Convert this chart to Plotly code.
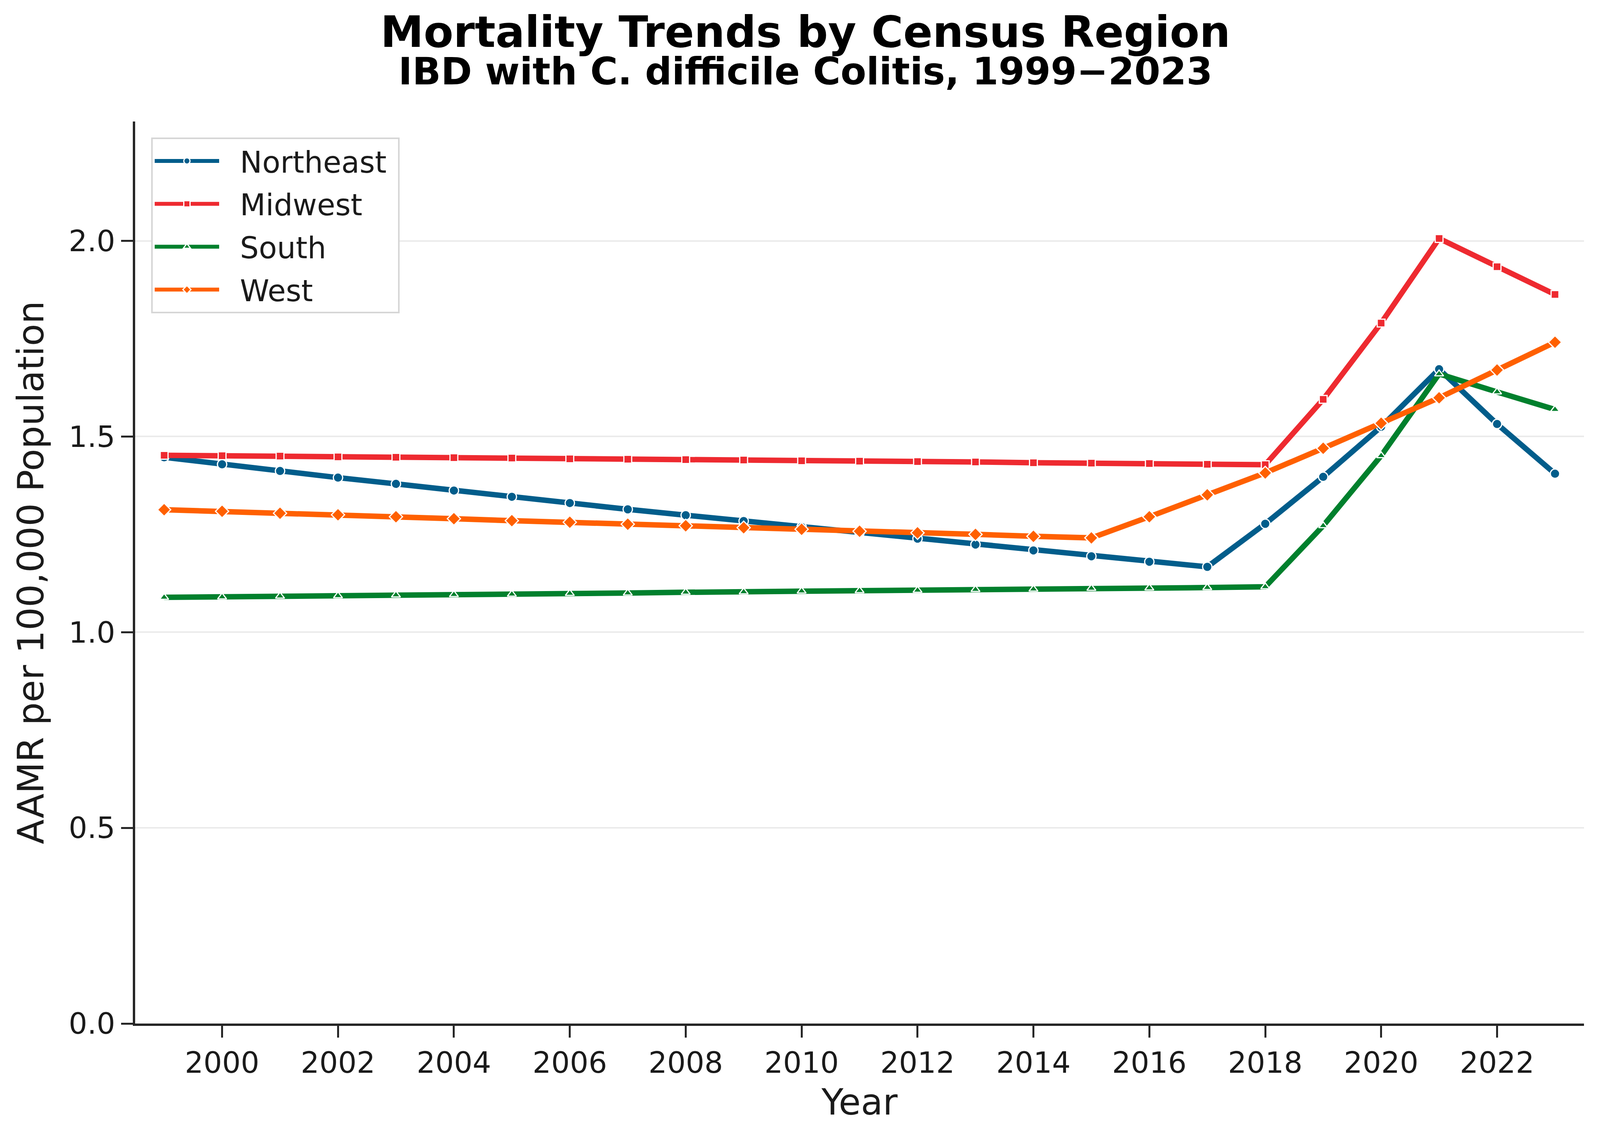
import plotly.graph_objects as go

years = list(range(1999, 2024))
northeast = [1.447, 1.429, 1.412, 1.395, 1.379, 1.362, 1.346, 1.330, 1.314, 1.299,
             1.284, 1.269, 1.254, 1.239, 1.224, 1.209, 1.194, 1.180, 1.167, 1.277,
             1.397, 1.525, 1.672, 1.532, 1.405]
midwest = [1.452, 1.451, 1.450, 1.448, 1.447, 1.446, 1.445, 1.443, 1.442, 1.441,
           1.440, 1.438, 1.437, 1.436, 1.435, 1.433, 1.432, 1.431, 1.429, 1.428,
           1.595, 1.790, 2.006, 1.934, 1.863]
south = [1.089, 1.090, 1.092, 1.093, 1.095, 1.096, 1.097, 1.099, 1.100, 1.102,
         1.103, 1.105, 1.106, 1.107, 1.109, 1.110, 1.112, 1.113, 1.114, 1.116,
         1.272, 1.451, 1.660, 1.614, 1.569]
west = [1.313, 1.309, 1.304, 1.300, 1.295, 1.290, 1.285, 1.281, 1.276, 1.272,
        1.267, 1.263, 1.258, 1.254, 1.250, 1.245, 1.241, 1.295, 1.351, 1.407,
        1.470, 1.534, 1.599, 1.670, 1.741]

series_names = ["Northeast", "Midwest", "South", "West"]
series_values = [northeast, midwest, south, west]
series_colors = ["#015d8b", "#ee2a30", "#00802d", "#ff6000"]
series_symbols = ["circle", "square", "triangle-up", "diamond"]
series_sizes = [24, 20, 20, 26]

title_text = "Mortality Trends by Census Region"
subtitle_text = "IBD with C. difficile Colitis, 1999\u22122023"

xtick_vals = list(range(2000, 2023, 2))
ytick_vals = [0.0, 0.5, 1.0, 1.5, 2.0]

W, H = 4108, 2913
ML, MR, MT, MB = 338, 61, 303, 301
FONT = "DejaVu Sans"
TXT = "#1a1a1a"
NBSP = "\u00a0"

fig = go.Figure()
for name, vals, col, sym, sz in zip(series_names, series_values, series_colors,
                                    series_symbols, series_sizes):
    fig.add_trace(go.Scatter(
        x=years, y=vals, name=NBSP * 2 + name + NBSP, legendgroup=name,
        mode="lines+markers",
        line=dict(color=col, width=14),
        marker=dict(symbol=sym, size=sz, color=col,
                    line=dict(color="white", width=3)),
    ))

plot_w = W - ML - MR
plot_h = H - MT - MB


def px_(pix):
    return (pix - ML) / plot_w


def py(pix):
    return (H - MB - pix) / plot_h


# one two-line title block; base font 74 px sets the 1.3em line pitch (~96 px)
fig.add_annotation(
    text=(f"<span style='font-size:111px'><b>{title_text}</b></span><br>"
          f"<span style='font-size:96px'><b>{subtitle_text}</b></span>"),
    xref="paper", yref="paper", x=px_(W / 2), y=py(7),
    xanchor="center", yanchor="top", align="center", showarrow=False,
    font=dict(family=FONT, size=74, color="black"))

fig.update_layout(
    width=W, height=H,
    margin=dict(l=ML, r=MR, t=MT, b=MB, autoexpand=False),
    paper_bgcolor="white", plot_bgcolor="white",
    font=dict(family=FONT, color=TXT),
    showlegend=True,
    legend=dict(
        x=px_(379), y=py(344), xanchor="left", yanchor="top",
        bgcolor="white", bordercolor="#d6d6d6", borderwidth=4,
        font=dict(family=FONT, size=76, color=TXT),
        itemwidth=165, tracegroupgap=8,
    ),
    xaxis=dict(
        range=[1998.5, 2023.5], tickmode="array", tickvals=xtick_vals,
        ticktext=[str(v) for v in xtick_vals],
        showgrid=False, zeroline=False,
        showline=True, linecolor="#262626", linewidth=6,
        ticks="outside", ticklen=30, tickwidth=5, tickcolor="#262626",
        tickfont=dict(family=FONT, size=75, color=TXT),
        title=dict(text="Year", font=dict(family=FONT, size=92, color=TXT), standoff=28),
    ),
    yaxis=dict(
        range=[0, 2.305], tickmode="array", tickvals=ytick_vals,
        ticktext=[f"{v:.1f}" for v in ytick_vals],
        showgrid=True, gridcolor="#ebebeb", gridwidth=4, zeroline=False,
        showline=True, linecolor="#262626", linewidth=6,
        ticks="outside", ticklen=30, tickwidth=5, tickcolor="#262626",
        tickfont=dict(family=FONT, size=75, color=TXT),
        title=dict(text="AAMR per 100,000 Population",
                   font=dict(family=FONT, size=93, color=TXT), standoff=35),
    ),
)

fig.write_html("out.html")
